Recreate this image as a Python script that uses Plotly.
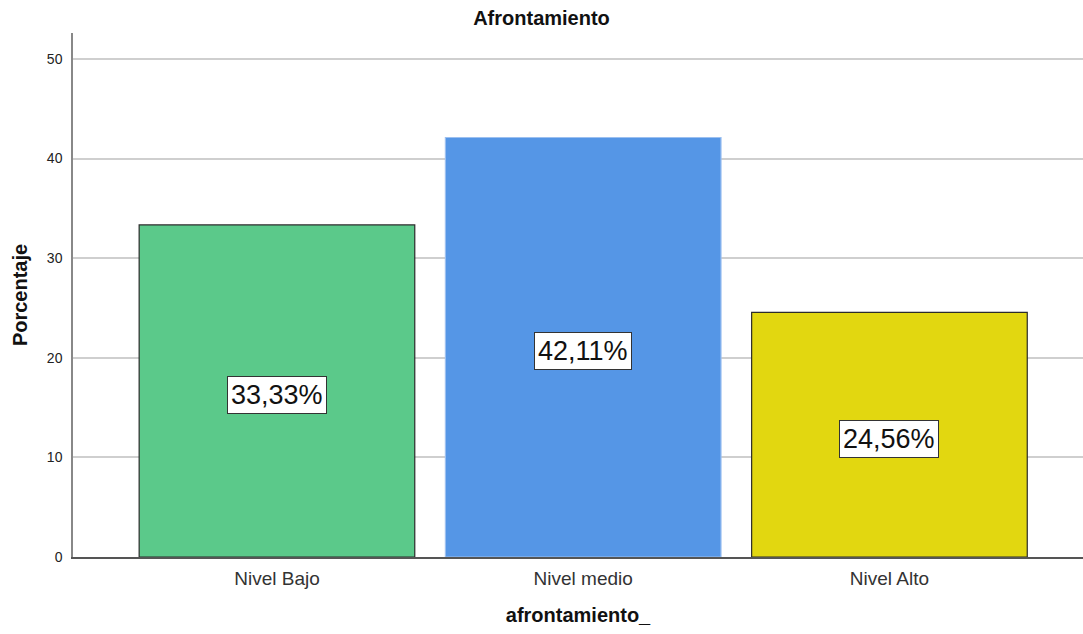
import plotly.graph_objects as go

categories = ["Nivel Bajo", "Nivel medio", "Nivel Alto"]
values = [33.33, 42.11, 24.56]
labels = ["33,33%", "42,11%", "24,56%"]
colors = ["#5BC98A", "#5596E6", "#E2D710"]
line_colors = ["#2b2b2b", "#9cc0f0", "#2b2b2b"]

fig = go.Figure()
fig.add_trace(go.Bar(
    x=list(range(len(categories))), y=values, width=0.9,
    marker=dict(color=colors, line=dict(color=line_colors, width=1.2)),
    hoverinfo="skip", showlegend=False,
))

for i, (v, t) in enumerate(zip(values, labels)):
    fig.add_annotation(
        x=i, y=v / 2, text=t, showarrow=False, yshift=-4,
        font=dict(family="Arial, Liberation Sans", size=27, color="#111"),
        bgcolor="white", bordercolor="#333", borderwidth=1, borderpad=3,
    )

fig.update_layout(
    width=1083, height=634,
    margin=dict(l=73, r=0, t=33, b=77),
    paper_bgcolor="white", plot_bgcolor="white",
    font=dict(family="Arial, Liberation Sans", color="#222"),
    title=dict(text="<b>Afrontamiento</b>", x=0.5, xanchor="center",
               y=1 - 18 / 634, yanchor="middle",
               font=dict(size=20, color="#111")),
    bargap=0.1,
)
fig.update_xaxes(
    range=[-0.666, 2.632], tickvals=list(range(len(categories))),
    ticktext=categories, showgrid=False, zeroline=False,
    showline=True, linecolor="#555", linewidth=1.5,
    ticks="", tickfont=dict(size=19, color="#333"), ticklabelstandoff=3,
    title=dict(text="<b>afrontamiento_</b>", font=dict(size=20, color="#111"), standoff=20),
)
fig.update_yaxes(
    range=[0, 52.6], tickvals=[0, 10, 20, 30, 40, 50],
    showgrid=True, gridcolor="#cfcfcf", gridwidth=1.5, zeroline=False,
    showline=True, linecolor="#888", linewidth=1.5,
    ticks="", tickfont=dict(size=14, color="#222"), ticklabelstandoff=6,
    title=dict(text="<b>Porcentaje</b>", font=dict(size=20, color="#111"), standoff=14),
)

fig.write_html("out.html")
